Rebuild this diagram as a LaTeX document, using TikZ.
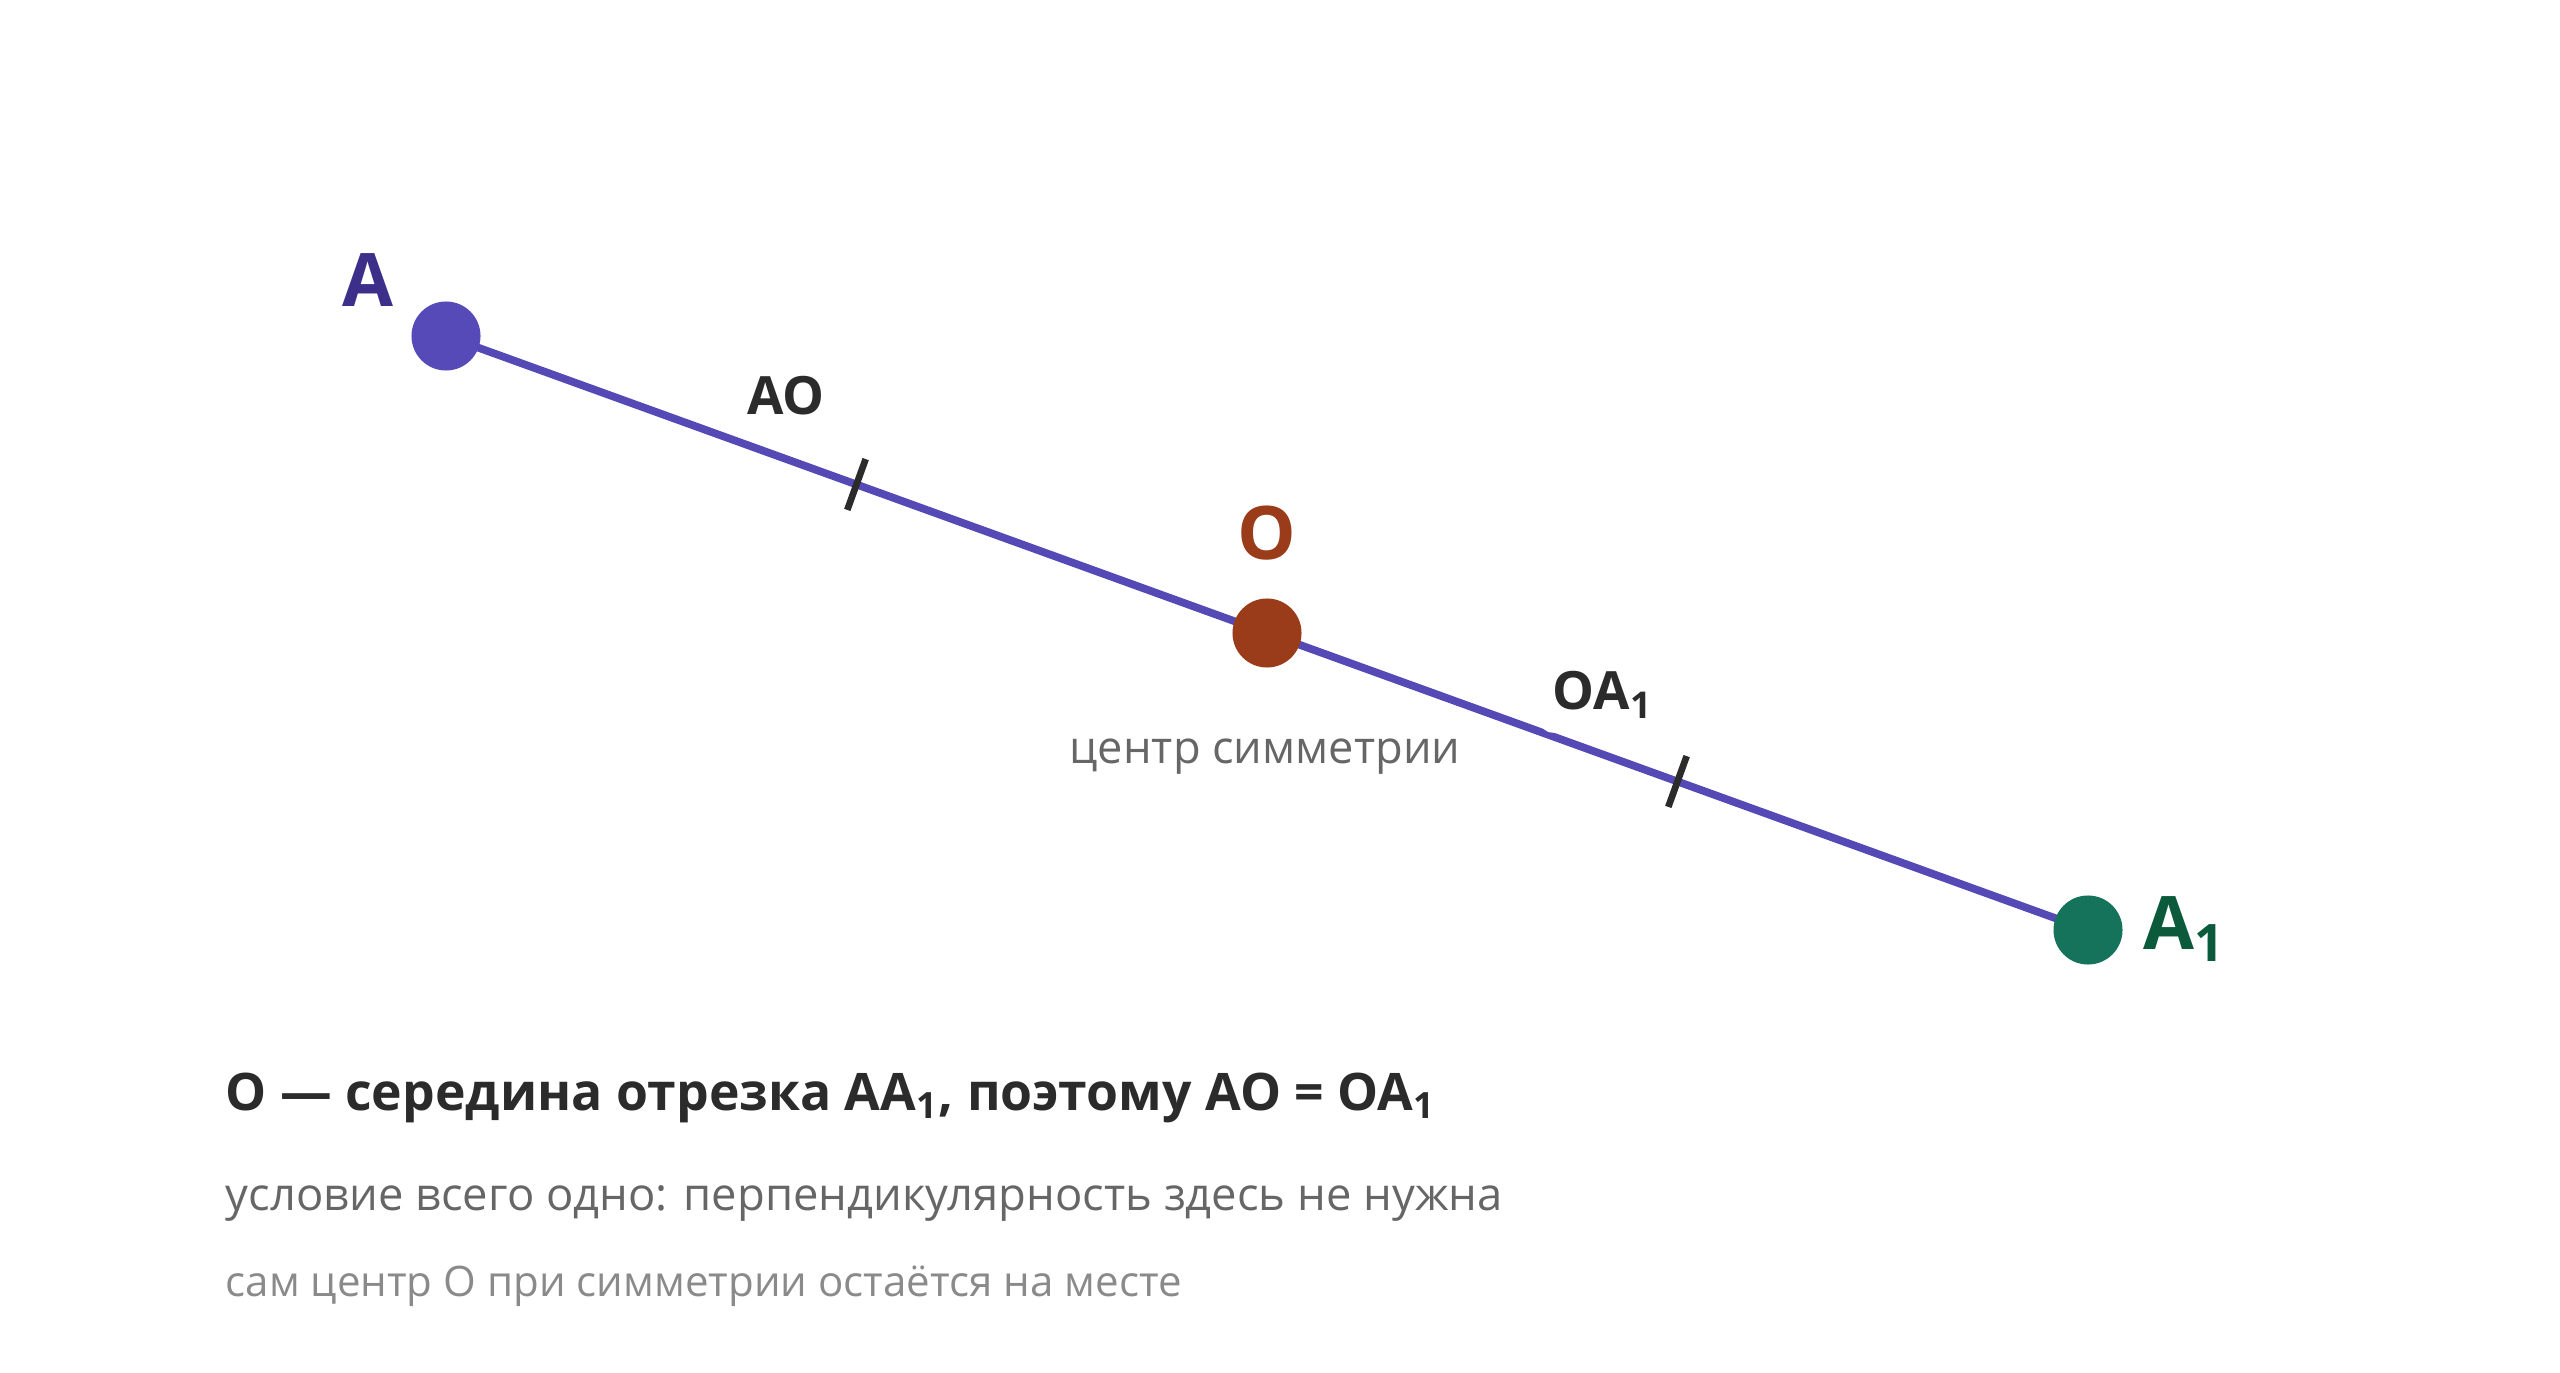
\documentclass[tikz,border=0pt]{standalone}
\usepackage{fontspec}
\setmainfont{Open Sans}
\usetikzlibrary{positioning}
\usetikzlibrary{decorations.markings}
\definecolor{segline}{HTML}{5549B5}
\definecolor{pointA}{HTML}{554AB8}
\definecolor{labelA}{HTML}{3B2F8A}
\definecolor{pointO}{HTML}{9A3B1A}
\definecolor{pointAone}{HTML}{14735A}
\definecolor{labelAone}{HTML}{0B5A3C}
\definecolor{inkdark}{HTML}{2B2B2B}
\definecolor{inkgray}{HTML}{666666}
\definecolor{inklight}{HTML}{8A8A8A}
\newcommand{\dotpoint}[3]{
	\node[circle, fill=#3, minimum size=0.69cm, inner sep=0pt] (#2) at (#1) {};
}
\newcommand{\ptfont}{\fontsize{21}{25}\selectfont\bfseries}
\newcommand{\segfont}{\fontsize{15}{18}\selectfont\bfseries}

\begin{document}
\begin{tikzpicture}[x=0.01cm, y=-0.01cm]
	\useasboundingbox (0,0) rectangle (2560,1373);

	%co-ordinates of the points, A1 = 2O - A
	\coordinate (pA) at (446,336);
	\coordinate (pO) at (1267,633);
	\coordinate (pA1) at (2088,930);

	%draw the segment, one mark in the middle of each half
	\begin{scope}[decoration={markings, mark=at position 0.5 with {\draw[inkdark, line width=1.9pt] (0,-0.27cm) -- (0,0.27cm);}}]
		\draw[segline, line width=2.2pt, postaction={decorate}] (pA) -- (pO);
		\draw[segline, line width=2.2pt, postaction={decorate}] (pO) -- (pA1);
	\end{scope}

	%names of the halves
	\node[fill=white, rounded corners=4pt, inner sep=5.5pt, text=inkdark, font=\segfont] (lAO) at (786,396) {AO};
	\node[fill=white, rounded corners=4pt, inner sep=4pt, text=inkdark, font=\segfont] (lOA1) at (1603,695) {OA\textsubscript{1}};

	%draw the points
	\dotpoint{pA}{A}{pointA}
	\dotpoint{pO}{O}{pointO}
	\dotpoint{pA1}{A1}{pointAone}
	\node[text=labelA, font=\ptfont] (lA) at (368,280) {A};
	\node[text=pointO, font=\ptfont] (lO) at (1267,533) {O};
	\node[text=labelAone, font=\ptfont] (lA1) at (2185,929) {A\textsubscript{1}};
	\node[text=inkgray, font=\fontsize{12.85}{16}\selectfont] (centre) at (1265,757) {центр симметрии};

	%the explanation under the picture
	\node[anchor=base west, inner sep=0pt, text=inkdark, font=\fontsize{14.7}{17}\selectfont\bfseries] (line1) at (225,1110) {O — середина отрезка AA\textsubscript{1}, поэтому AO = OA\textsubscript{1}};
	\node[anchor=base west, inner sep=0pt, text=inkgray, font=\fontsize{12.9}{15}\selectfont] (line2) at (225,1210) {условие всего одно: перпендикулярность здесь не нужна};
	\node[anchor=base west, inner sep=0pt, text=inklight, font=\fontsize{11.95}{14}\selectfont] (line3) at (225,1296) {сам центр O при симметрии остаётся на месте};

\end{tikzpicture}
\end{document}
